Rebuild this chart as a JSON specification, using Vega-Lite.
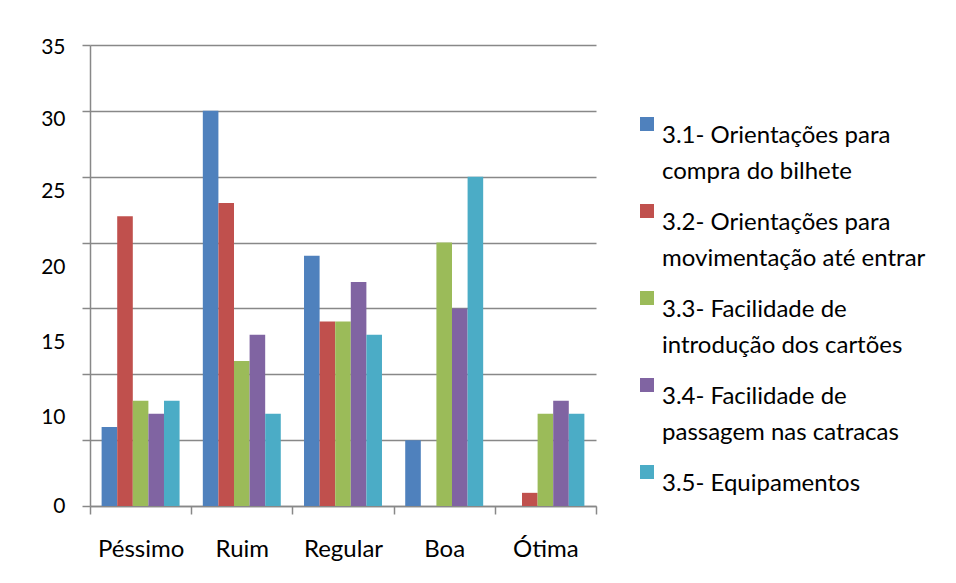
{
  "$schema": "https://vega.github.io/schema/vega-lite/v6.json",
  "width": 506,
  "height": 461,
  "autosize": {"type": "none"},
  "padding": {"left": 90, "top": 45, "right": 360, "bottom": 77},
  "background": "white",
  "data": {
    "values": [
      {"avaliacao": "Péssimo", "item": "3.1- Orientações para compra do bilhete", "valor": 6},
      {"avaliacao": "Péssimo", "item": "3.2- Orientações para movimentação até entrar", "valor": 22},
      {"avaliacao": "Péssimo", "item": "3.3- Facilidade de introdução dos cartões", "valor": 8},
      {"avaliacao": "Péssimo", "item": "3.4- Facilidade de passagem nas catracas", "valor": 7},
      {"avaliacao": "Péssimo", "item": "3.5- Equipamentos", "valor": 8},
      {"avaliacao": "Ruim", "item": "3.1- Orientações para compra do bilhete", "valor": 30},
      {"avaliacao": "Ruim", "item": "3.2- Orientações para movimentação até entrar", "valor": 23},
      {"avaliacao": "Ruim", "item": "3.3- Facilidade de introdução dos cartões", "valor": 11},
      {"avaliacao": "Ruim", "item": "3.4- Facilidade de passagem nas catracas", "valor": 13},
      {"avaliacao": "Ruim", "item": "3.5- Equipamentos", "valor": 7},
      {"avaliacao": "Regular", "item": "3.1- Orientações para compra do bilhete", "valor": 19},
      {"avaliacao": "Regular", "item": "3.2- Orientações para movimentação até entrar", "valor": 14},
      {"avaliacao": "Regular", "item": "3.3- Facilidade de introdução dos cartões", "valor": 14},
      {"avaliacao": "Regular", "item": "3.4- Facilidade de passagem nas catracas", "valor": 17},
      {"avaliacao": "Regular", "item": "3.5- Equipamentos", "valor": 13},
      {"avaliacao": "Boa", "item": "3.1- Orientações para compra do bilhete", "valor": 5},
      {"avaliacao": "Boa", "item": "3.2- Orientações para movimentação até entrar", "valor": 0},
      {"avaliacao": "Boa", "item": "3.3- Facilidade de introdução dos cartões", "valor": 20},
      {"avaliacao": "Boa", "item": "3.4- Facilidade de passagem nas catracas", "valor": 15},
      {"avaliacao": "Boa", "item": "3.5- Equipamentos", "valor": 25},
      {"avaliacao": "Ótima", "item": "3.1- Orientações para compra do bilhete", "valor": 0},
      {"avaliacao": "Ótima", "item": "3.2- Orientações para movimentação até entrar", "valor": 1},
      {"avaliacao": "Ótima", "item": "3.3- Facilidade de introdução dos cartões", "valor": 7},
      {"avaliacao": "Ótima", "item": "3.4- Facilidade de passagem nas catracas", "valor": 8},
      {"avaliacao": "Ótima", "item": "3.5- Equipamentos", "valor": 7}
    ]
  },
  "mark": {"type": "bar"},
  "encoding": {
    "x": {
      "field": "avaliacao",
      "type": "nominal",
      "sort": ["Péssimo", "Ruim", "Regular", "Boa", "Ótima"],
      "scale": {"paddingInner": 0, "paddingOuter": 0},
      "axis": {
        "title": null,
        "labelAngle": 0,
        "labelFont": "Lato",
        "labelFontSize": 24,
        "labelColor": "#000000",
        "labelBaseline": "alphabetic",
        "labelPadding": 42,
        "tickBand": "extent",
        "tickSize": 8,
        "tickColor": "#888888",
        "tickWidth": 1.5,
        "domainColor": "#888888",
        "domainWidth": 1.5,
        "grid": false
      }
    },
    "xOffset": {
      "field": "item",
      "type": "nominal",
      "scale": {"paddingInner": 0, "paddingOuter": 0.745}
    },
    "y": {
      "field": "valor",
      "type": "quantitative",
      "scale": {"domain": [0, 35], "nice": false},
      "axis": {
        "title": null,
        "values": [0, 5, 10, 15, 20, 25, 30, 35],
        "labelExpr": "datum.value == 5 ? '' : datum.label",
        "labelOffset": {
          "condition": [
            {"test": "datum.value == 35", "value": 2},
            {"test": "datum.value == 30", "value": 9},
            {"test": "datum.value == 25", "value": 15},
            {"test": "datum.value == 20", "value": 25},
            {"test": "datum.value == 15", "value": 34},
            {"test": "datum.value == 10", "value": 43}
          ],
          "value": 0
        },
        "labelFont": "Lato",
        "labelFontSize": 21,
        "labelColor": "#000000",
        "labelPadding": 17,
        "tickSize": 8,
        "tickColor": "#888888",
        "tickWidth": 1.5,
        "domainColor": "#888888",
        "domainWidth": 1.5,
        "grid": true,
        "gridColor": "#888888",
        "gridWidth": 1.5
      }
    },
    "color": {
      "field": "item",
      "type": "nominal",
      "scale": {
        "domain": [
          "3.1- Orientações para compra do bilhete",
          "3.2- Orientações para movimentação até entrar",
          "3.3- Facilidade de introdução dos cartões",
          "3.4- Facilidade de passagem nas catracas",
          "3.5- Equipamentos"
        ],
        "range": ["#4F81BD", "#C0504D", "#9BBB59", "#8064A2", "#4BACC6"]
      },
      "legend": {
        "title": null,
        "orient": "none",
        "legendX": 545,
        "legendY": 67,
        "padding": 0,
        "symbolType": "square",
        "symbolSize": 196,
        "symbolStrokeWidth": 0,
        "labelFont": "Lato",
        "labelFontSize": 24,
        "labelColor": "#000000",
        "labelBaseline": "top",
        "labelOffset": 3,
        "labelLimit": 400,
        "rowPadding": 15,
        "labelExpr": "split(replace(replace(datum.label, ' para ', ' para|'), ' de ', ' de|'), '|')"
      }
    }
  },
  "config": {
    "view": {"stroke": null},
    "font": "Lato",
    "style": {"guide-label": {"lineHeight": 36}}
  }
}
